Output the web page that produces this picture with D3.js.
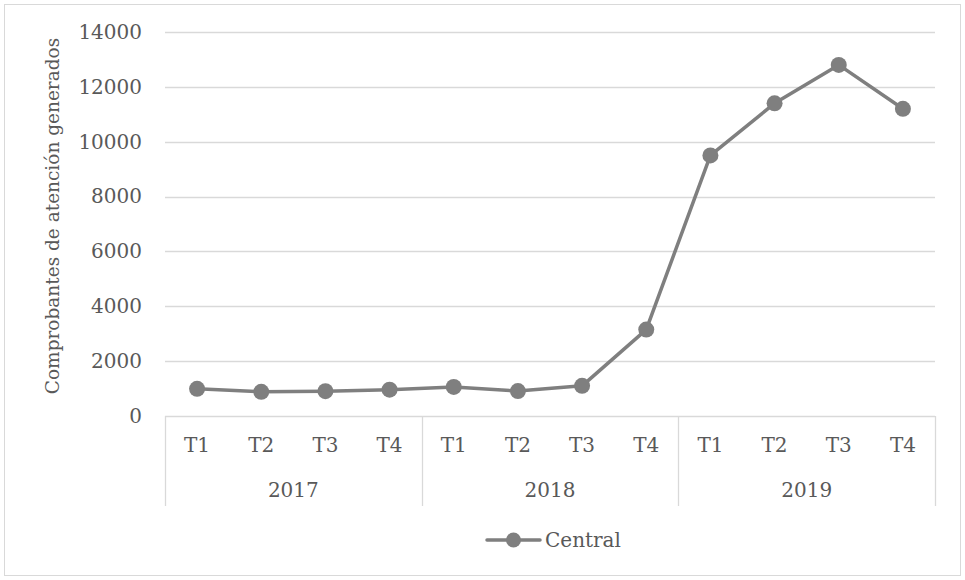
<!DOCTYPE html>
<html>
<head>
<meta charset="utf-8">
<script src="https://cdn.jsdelivr.net/npm/d3@7"></script>
<style>
  html, body { margin: 0; padding: 0; background: #fff; }
  svg { display: block; }
  text { font-family: "DejaVu Serif", "Liberation Serif", serif; fill: #595959; }
</style>
</head>
<body>
<svg id="chart" width="965" height="580"></svg>
<script>
// Quarterly counts of generated attention vouchers, "Central" series
const years = ["2017", "2018", "2019"];
const quarters = ["T1", "T2", "T3", "T4"];
const centralValues = [990, 880, 905, 960, 1060, 910, 1100, 3150, 9500, 11400, 12800, 11200];
const yTicks = [0, 2000, 4000, 6000, 8000, 10000, 12000, 14000];
const seriesName = "Central";
const yTitle = "Comprobantes de atención generados";

const categories = [];
years.forEach(y => quarters.forEach(q => categories.push({ key: y + "-" + q, year: y, quarter: q })));
const data = categories.map((c, i) => ({ ...c, value: centralValues[i] }));

const W = 965, H = 580;
const plot = { left: 165, right: 935, top: 32, bottom: 416 };
const svg = d3.select("#chart");

// Chart outer frame
svg.append("rect")
  .attr("x", 4.5).attr("y", 4.5).attr("width", W - 9).attr("height", H - 9)
  .attr("fill", "#fff").attr("stroke", "#d9d9d9").attr("stroke-width", 1);

const x = d3.scaleBand().domain(categories.map(c => c.key)).range([plot.left, plot.right]);
const y = d3.scaleLinear().domain([0, 14000]).range([plot.bottom, plot.top]);

// Horizontal gridlines
svg.append("g").selectAll("line").data(yTicks.filter(t => t > 0)).join("line")
  .attr("x1", plot.left).attr("x2", plot.right)
  .attr("y1", d => Math.round(y(d)) + 0.5).attr("y2", d => Math.round(y(d)) + 0.5)
  .attr("stroke", "#d9d9d9").attr("stroke-width", 1.3);

// Y axis labels
const yAxis = d3.axisLeft(y).tickValues(yTicks).tickSize(0).tickPadding(0).tickFormat(d3.format("d"));
const gy = svg.append("g").attr("transform", `translate(${plot.left - 23},0)`).call(yAxis);
gy.select(".domain").remove();
gy.selectAll("text").attr("font-size", 20).attr("fill", "#595959")
  .style("font-family", '"DejaVu Serif", serif');

// Category axis: baseline, group separators, quarter and year labels
const catBottom = 506;
svg.append("line")
  .attr("x1", plot.left).attr("x2", plot.right)
  .attr("y1", plot.bottom + 0.5).attr("y2", plot.bottom + 0.5)
  .attr("stroke", "#d9d9d9").attr("stroke-width", 1.3);

const groupEdges = [];
years.forEach((yr, i) => {
  groupEdges.push(x(yr + "-T1"));
  if (i === years.length - 1) groupEdges.push(x(yr + "-T4") + x.bandwidth());
});
svg.append("g").selectAll("line").data(groupEdges).join("line")
  .attr("x1", d => Math.round(d) + 0.5).attr("x2", d => Math.round(d) + 0.5)
  .attr("y1", plot.bottom).attr("y2", catBottom)
  .attr("stroke", "#d9d9d9").attr("stroke-width", 1.3);

svg.append("g").selectAll("text").data(categories).join("text")
  .attr("x", d => x(d.key) + x.bandwidth() / 2)
  .attr("y", 445).attr("dy", "0.35em")
  .attr("text-anchor", "middle").attr("font-size", 20)
  .text(d => d.quarter);

svg.append("g").selectAll("text").data(years).join("text")
  .attr("x", d => (x(d + "-T1") + x(d + "-T4") + x.bandwidth()) / 2)
  .attr("y", 490).attr("dy", "0.35em")
  .attr("text-anchor", "middle").attr("font-size", 20)
  .text(d => d);

// Y axis title
svg.append("text")
  .attr("transform", "translate(53,216) rotate(-90)")
  .attr("text-anchor", "middle").attr("dy", "0.35em").attr("font-size", 18.5)
  .text(yTitle);

// Series line and markers
const lineColor = "#7f7f7f";
const line = d3.line().x(d => x(d.key) + x.bandwidth() / 2).y(d => y(d.value));
svg.append("path").datum(data)
  .attr("d", line).attr("fill", "none")
  .attr("stroke", lineColor).attr("stroke-width", 3.5).attr("stroke-linejoin", "round");
svg.append("g").selectAll("circle").data(data).join("circle")
  .attr("cx", d => x(d.key) + x.bandwidth() / 2).attr("cy", d => y(d.value))
  .attr("r", 8).attr("fill", lineColor);

// Legend
const lg = svg.append("g").attr("transform", "translate(487,540)");
lg.append("line").attr("x1", 0).attr("x2", 53).attr("y1", 0).attr("y2", 0)
  .attr("stroke", lineColor).attr("stroke-width", 3.5).attr("stroke-linecap", "round");
lg.append("circle").attr("cx", 26.5).attr("cy", 0).attr("r", 7.5).attr("fill", lineColor);
lg.append("text").attr("x", 58).attr("y", 0).attr("dy", "0.35em").attr("font-size", 20)
  .text(seriesName);
</script>
</body>
</html>
